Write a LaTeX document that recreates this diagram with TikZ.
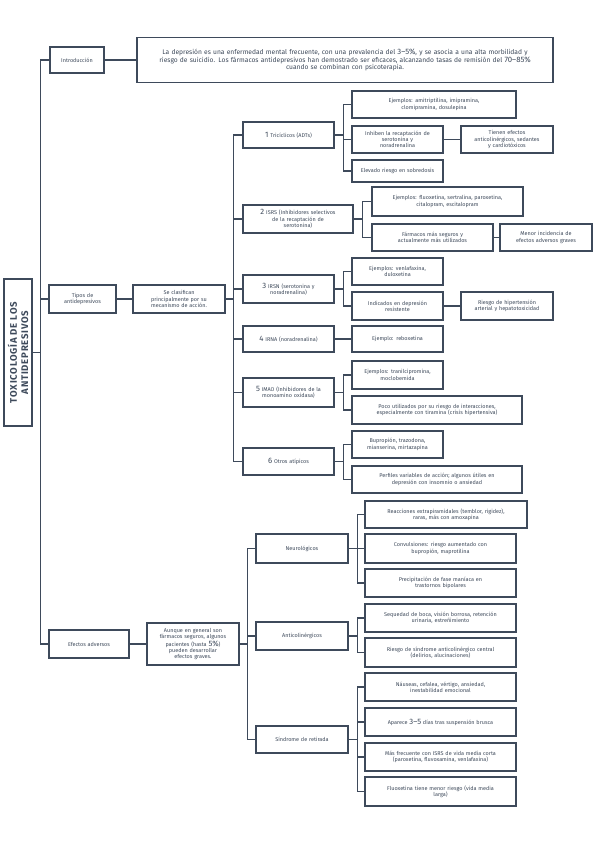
\documentclass[tikz,border=0pt]{standalone}
\usepackage{fontspec}
\setmainfont{Fira Sans}
\definecolor{ink}{HTML}{3E4A5B}
\newcommand{\bignum}[1]{{\fontsize{7.8}{6}\selectfont #1}}

\begin{document}
\begin{tikzpicture} [x=1bp, y=-1bp, line width=1.1bp,
                    box node/.style={draw=ink, fill=white, text=ink, align=center, inner xsep=1.5bp, inner ysep=1bp,
                                     font=\fontsize{5.5}{6.3}\selectfont},
                    wh/.style n args={2}{text width=#1bp, minimum height=#2bp},
                    link line/.style={draw=ink, line width=1.1bp}]
    \useasboundingbox (0,0) rectangle (599,848);

    % title, turned on its side
    \node[box node, rotate=90, minimum width=147bp, minimum height=28bp, inner sep=0pt,
          font=\bfseries\fontsize{9.6}{11.5}\selectfont\addfontfeatures{LetterSpace=8}] (title) at (18,352.5)
          {TOXICOLOGÍA DE LOS\\ ANTIDEPRESIVOS};

    % first level
    \node[box node, wh={51}{26}] (intro) at (77,60) {Introducción};
    \node[box node, wh={413}{45}, font=\fontsize{6.7}{7.4}\selectfont] (introtext) at (345,60)
          {La depresión es una enfermedad mental frecuente, con una prevalencia del \bignum{3–5\%}, y se asocia a una alta morbilidad y\\
           riesgo de suicidio. Los fármacos antidepresivos han demostrado ser eficaces, alcanzando tasas de remisión del \bignum{70–85\%}\\
           cuando se combinan con psicoterapia.};
    \node[box node, wh={64}{28}] (tipos) at (82.5,299) {Tipos de\\ antidepresivos};
    \node[box node, wh={89}{28}] (clasif) at (179,299) {Se clasifican\\ principalmente por su\\ mecanismo de acción.};
    \node[box node, wh={77}{28}] (efectos) at (89,644) {Efectos adversos};
    \node[box node, wh={89}{42}] (aunque) at (193,644)
          {Aunque en general son\\ fármacos seguros, algunos\\ pacientes (hasta \bignum{5\%})\\ pueden desarrollar\\ efectos graves.};

    % types
    \node[box node, wh={88}{26}] (tca) at (288.5,135) {\bignum{1} Tricíclicos (ADTs)};
    \node[box node, wh={107}{28}] (isrs) at (298,219) {\bignum{2} ISRS (Inhibidores selectivos\\ de la recaptación de\\ serotonina)};
    \node[box node, wh={88}{28}] (irsn) at (288.5,289) {\bignum{3} IRSN (serotonina y\\ noradrenalina)};
    \node[box node, wh={88}{26}] (irna) at (288.5,339) {\bignum{4} IRNA (noradrenalina)};
    \node[box node, wh={88}{29}] (imao) at (288.5,392.5) {\bignum{5} IMAO (Inhibidores de la\\ monoamino oxidasa)};
    \node[box node, wh={88}{27}] (otros) at (288.5,461.5) {\bignum{6} Otros atípicos};

    % tricyclics
    \node[box node, wh={161}{27}] (tcaej) at (434,104.5) {Ejemplos: amitriptilina, imipramina,\\ clomipramina, dosulepina};
    \node[box node, wh={88}{27}] (tcainh) at (397.5,139.5) {Inhiben la recaptación de\\ serotonina y\\ noradrenalina};
    \node[box node, wh={89}{27}] (tcaef) at (507,139.5) {Tienen efectos\\ anticolinérgicos, sedantes\\ y cardiotóxicos};
    \node[box node, wh={88}{22}] (tcasob) at (397.5,171) {Elevado riesgo en sobredosis};

    % ssri
    \node[box node, wh={148}{29}] (isrsej) at (447.5,201.5) {Ejemplos: fluoxetina, sertralina, paroxetina,\\ citalopram, escitalopram};
    \node[box node, wh={118}{27}] (isrsseg) at (432.5,237.5) {Fármacos más seguros y\\ actualmente más utilizados};
    \node[box node, wh={89}{27}] (isrsmen) at (546,237.5) {Menor incidencia de\\ efectos adversos graves};

    % snri, nri
    \node[box node, wh={88}{27}] (irsnej) at (397.5,271.5) {Ejemplos: venlafaxina,\\ duloxetina};
    \node[box node, wh={88}{28}] (irsnind) at (397.5,306) {Indicados en depresión\\ resistente};
    \node[box node, wh={89}{28}] (irsnhta) at (507,306) {Riesgo de hipertensión\\ arterial y hepatotoxicidad};
    \node[box node, wh={88}{26}] (irnaej) at (397.5,339) {Ejemplo: reboxetina};

    % maoi, others
    \node[box node, wh={88}{28}] (imaoej) at (397.5,375) {Ejemplos: tranilcipromina,\\ moclobemida};
    \node[box node, wh={167}{28}] (imaopoco) at (437,410) {Poco utilizados por su riesgo de interacciones,\\ especialmente con tiramina (crisis hipertensiva)};
    \node[box node, wh={88}{27}] (otrosej) at (397.5,444.5) {Bupropión, trazodona,\\ mianserina, mirtazapina};
    \node[box node, wh={167}{27}] (otrosperf) at (437,479.5) {Perfiles variables de acción; algunos útiles en\\ depresión con insomnio o ansiedad};

    % adverse effects
    \node[box node, wh={89}{29}] (neuro) at (302,548.5) {Neurológicos};
    \node[box node, wh={89}{28}] (antic) at (302,636) {Anticolinérgicos};
    \node[box node, wh={89}{27}] (retir) at (302,739.5) {Síndrome de retirada};

    \node[box node, wh={159}{27}] (neuroext) at (446,514.5) {Reacciones extrapiramidales (temblor, rigidez),\\ raras, más con amoxapina};
    \node[box node, wh={148}{29}] (neuroconv) at (440.5,548.5) {Convulsiones: riesgo aumentado con\\ bupropión, maprotilina};
    \node[box node, wh={148}{28}] (neuroman) at (440.5,583) {Precipitación de fase maníaca en\\ trastornos bipolares};
    \node[box node, wh={148}{28}] (anticseq) at (440.5,618) {Sequedad de boca, visión borrosa, retención\\ urinaria, estreñimiento};
    \node[box node, wh={148}{29}] (anticsnd) at (440.5,652.5) {Riesgo de síndrome anticolinérgico central\\ (delirios, alucinaciones)};
    \node[box node, wh={148}{28}] (retirsin) at (440.5,687) {Náuseas, cefalea, vértigo, ansiedad,\\ inestabilidad emocional};
    \node[box node, wh={148}{28}] (retirdia) at (440.5,722) {Aparece \bignum{3–5} días tras suspensión brusca};
    \node[box node, wh={148}{28}] (retirisrs) at (440.5,757) {Más frecuente con ISRS de vida media corta\\ (paroxetina, fluvoxamina, venlafaxina)};
    \node[box node, wh={148}{29}] (retirflx) at (440.5,791.5) {Fluoxetina tiene menor riesgo (vida media\\ larga)};

    % connectors (title.south is its right side after the turn)
    \draw[link line] (title.south) -- ++(8,0) |- (intro.west);
    \draw[link line] (title.south) -- ++(8,0) |- (tipos.west);
    \draw[link line] (title.south) -- ++(8,0) |- (efectos.west);

    \draw[link line] (intro) -- (introtext);
    \draw[link line] (tipos) -- (clasif);
    \draw[link line] (efectos) -- (aunque);
    \draw[link line] (tcainh) -- (tcaef);
    \draw[link line] (isrsseg) -- (isrsmen);
    \draw[link line] (irsnind) -- (irsnhta);
    \draw[link line] (irna) -- (irnaej);

    \foreach \t in {tca,isrs,irsn,irna,imao,otros}
        \draw[link line] (clasif.east) -- ++(8,0) |- (\t.west);
    \foreach \c in {tcaej,tcainh,tcasob}
        \draw[link line] (tca.east) -- ++(9,0) |- (\c.west);
    \foreach \c in {isrsej,isrsseg}
        \draw[link line] (isrs.east) -- ++(9,0) |- (\c.west);
    \foreach \c in {irsnej,irsnind}
        \draw[link line] (irsn.east) -- ++(9,0) |- (\c.west);
    \foreach \c in {imaoej,imaopoco}
        \draw[link line] (imao.east) -- ++(9,0) |- (\c.west);
    \foreach \c in {otrosej,otrosperf}
        \draw[link line] (otros.east) -- ++(9,0) |- (\c.west);

    \foreach \e in {neuro,antic,retir}
        \draw[link line] (aunque.east) -- ++(8,0) |- (\e.west);
    \foreach \c in {neuroext,neuroconv,neuroman}
        \draw[link line] (neuro.east) -- ++(9,0) |- (\c.west);
    \foreach \c in {anticseq,anticsnd}
        \draw[link line] (antic.east) -- ++(9,0) |- (\c.west);
    \foreach \c in {retirsin,retirdia,retirisrs,retirflx}
        \draw[link line] (retir.east) -- ++(9,0) |- (\c.west);
\end{tikzpicture}
\end{document}
